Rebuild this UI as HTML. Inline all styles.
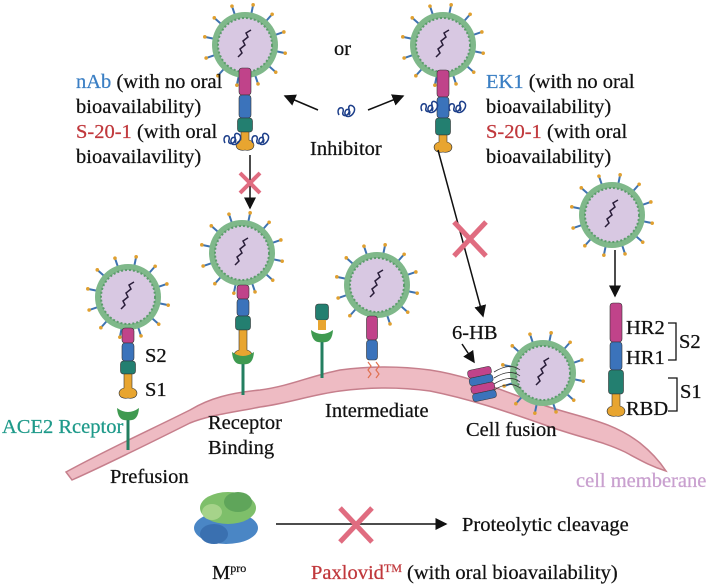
<!DOCTYPE html>
<html><head><meta charset="utf-8"><style>
html,body{margin:0;padding:0;background:#fff}
svg{display:block}
text{font-family:"Liberation Serif",serif;font-size:20.5px;fill:#111;stroke:#111;stroke-width:0.25}
</style></head><body>
<svg id="s" width="714" height="584" viewBox="0 0 714 584">
<defs>
<marker id="ah" markerWidth="8" markerHeight="8" refX="7" refY="4" orient="auto"><path d="M0,0 L8,4 L0,8 z" fill="#111"/></marker>
</defs>
<path d="M66,472 C110,448 150,430 190,410 C210,398 230,393 260,390 C290,386 310,376 340,370 C370,366 400,366 430,370 C470,376 500,390 540,404 C580,418 610,420 640,443 C655,455 662,465 666,471 C650,466 640,460 625,452 C600,440 580,438 545,425 C505,411 470,399 430,391 C400,387 370,387 340,391 C310,395 290,403 260,407 C230,413 210,415 190,423 C150,443 110,463 72,480 Z" fill="#eebbc3" stroke="#c67f8c" stroke-width="1.5"/>
<g id="dyn"></g>
<line x1="318" y1="110" x2="285" y2="96" stroke="#111" stroke-width="1.5" marker-end="url(#ah)"/>
<line x1="368" y1="110" x2="403" y2="96" stroke="#111" stroke-width="1.5" marker-end="url(#ah)"/>
<line x1="250" y1="155" x2="250" y2="208" stroke="#111" stroke-width="1.5" marker-end="url(#ah)"/>
<line x1="438" y1="150" x2="483" y2="316" stroke="#111" stroke-width="1.5" marker-end="url(#ah)"/>
<line x1="615" y1="250" x2="615" y2="296" stroke="#111" stroke-width="1.5" marker-end="url(#ah)"/>
<line x1="462" y1="344" x2="474" y2="362" stroke="#111" stroke-width="1.5" marker-end="url(#ah)"/>
<line x1="276" y1="524" x2="446" y2="524" stroke="#111" stroke-width="1.5" marker-end="url(#ah)"/>
<g stroke="#e06c80" stroke-width="4"><line x1="240" y1="173" x2="260" y2="193"/><line x1="260" y1="173" x2="240" y2="193"/></g>
<g stroke="#e06c80" stroke-width="5"><line x1="454" y1="222" x2="486" y2="256"/><line x1="486" y1="222" x2="454" y2="256"/></g>
<g stroke="#e06c80" stroke-width="5"><line x1="340" y1="508" x2="372" y2="542"/><line x1="372" y1="508" x2="340" y2="542"/></g>
<g>
<ellipse cx="226" cy="528" rx="32" ry="16" fill="#4a86c5"/>
<ellipse cx="214" cy="534" rx="14" ry="10" fill="#3a70b0"/>
<ellipse cx="228" cy="508" rx="28" ry="16" fill="#7ebf6a"/>
<ellipse cx="238" cy="502" rx="14" ry="10" fill="#5fa55a"/>
<ellipse cx="212" cy="512" rx="10" ry="8" fill="#a6d38a"/>
</g>
<path d="M668,323 H676 V360 H668" fill="none" stroke="#111" stroke-width="1.3"/>
<path d="M668,378 H677 V411 H668" fill="none" stroke="#111" stroke-width="1.3"/>
<text x="334" y="55">or</text>
<text x="76" y="88"><tspan fill="#3b7fc4" stroke="#3b7fc4">nAb</tspan> (with no oral</text>
<text x="76" y="113">bioavailability)</text>
<text x="76" y="138"><tspan fill="#c0383c" stroke="#c0383c">S-20-1</tspan> (with oral</text>
<text x="76" y="163">bioavailavility)</text>
<text x="486" y="88"><tspan fill="#3b7fc4" stroke="#3b7fc4">EK1</tspan> (with no oral</text>
<text x="486" y="113">bioavailability)</text>
<text x="486" y="138"><tspan fill="#c0383c" stroke="#c0383c">S-20-1</tspan> (with oral</text>
<text x="486" y="163">bioavailability)</text>
<text x="310" y="155">Inhibitor</text>
<text x="145" y="362">S2</text>
<text x="145" y="396">S1</text>
<text x="2" y="433" style="fill:#1f9a8a;stroke:#1f9a8a">ACE2 Rceptor</text>
<text x="110" y="483">Prefusion</text>
<text x="208" y="429">Receptor</text>
<text x="208" y="454">Binding</text>
<text x="325" y="417">Intermediate</text>
<text x="466" y="436">Cell fusion</text>
<text x="452" y="339">6-HB</text>
<text x="626" y="334">HR2</text>
<text x="626" y="364">HR1</text>
<text x="626" y="415">RBD</text>
<text x="679" y="348">S2</text>
<text x="680" y="398">S1</text>
<text x="576" y="487" style="fill:#c9a0cf;stroke:#c9a0cf">cell memberane</text>
<text x="462" y="531">Proteolytic cleavage</text>
<text x="212" y="579">M<tspan font-size="12" dy="-7">pro</tspan></text>
<text x="311" y="579"><tspan fill="#c0383c" stroke="#c0383c">Paxlovid<tspan font-size="12" dy="-7">TM</tspan></tspan><tspan dy="7"> (with oral bioavailability)</tspan></text>
</svg>
<script>
const NS='http://www.w3.org/2000/svg';
const dyn=document.getElementById('dyn');
function mk(tag,attrs,parent){const e=document.createElementNS(NS,tag);for(const k in attrs)e.setAttribute(k,attrs[k]);(parent||dyn).appendChild(e);return e;}
function virus(cx,cy,name){
  const g=mk('g',{});
  
  
  for(let i=0;i<12;i++){const a=i*Math.PI/6+0.2;
    const x1=cx+Math.cos(a)*31,y1=cy+Math.sin(a)*31,x2=cx+Math.cos(a)*41,y2=cy+Math.sin(a)*41;
    mk('line',{x1,y1,x2,y2,stroke:'#3f73b0','stroke-width':2},g);
    mk('circle',{cx:x2,cy:y2,r:1.8,fill:'#e0a030'},g);}
  mk('circle',{cx,cy,r:33,fill:'#7fb88a'},g);
  mk('circle',{cx,cy,r:27,fill:'#d8c8e2',stroke:'#5c9b6c','stroke-width':2,'stroke-dasharray':'2 2'},g);
  mk('path',{d:`M${cx-7},${cy+12} l4,-4 l-2,-4 l5,-4 l-2,-4 l5,-4 l-2,-4 l5,-3`,fill:'none',stroke:'#2a1e3a','stroke-width':1.5},g);
}
function seg(x,y1,y2,col,w,name){const r=mk('rect',{x:x-w/2,y:y1,width:w,height:y2-y1,rx:3,fill:col,stroke:'#333','stroke-width':0.6});
  
  }
function stack(x,yp,yb,yg,yo,ye,name){
  seg(x,yp,yb,'#c0438a',12,name+'-hr2');
  seg(x,yb,yg,'#3b73bb',12,name+'-hr1');
  seg(x,yg,yo,'#237f70',15,name+'-rbd-domain');
  const o=mk('path',{d:`M${x-4},${yo} L${x+4},${yo} L${x+4},${ye-10} C${x+12},${ye-8} ${x+10},${ye+2} ${x},${ye} C${x-10},${ye+2} ${x-12},${ye-8} ${x-4},${ye-10} Z`,fill:'#e8a530',stroke:'#333','stroke-width':0.6});
  
  
}
function receptor(x,y,y2,name){
  const g=mk('g',{});
  
  
  mk('line',{x1:x,y1:y,x2:x,y2:y2,stroke:'#237f60','stroke-width':3},g);
  mk('path',{d:`M${x-11},${y-10} Q${x},${y-2} ${x+11},${y-10} Q${x+10},${y+4} ${x},${y+2} Q${x-10},${y+4} ${x-11},${y-10}Z`,fill:'#3f9a50'},g);
}
function inhib(x,y,name){const p=mk('path',{d:`M${x-7},${y+3} c-4,-8 6,-10 4,-3 c-2,6 8,4 6,-3 c-2,-6 8,-4 5,3 c-3,6 -10,6 -9,0 c1,-5 7,-2 4,3`,fill:'none',stroke:'#1d3f8a','stroke-width':1.5});
  
  }
virus(245,45,'virus-top-left'); stack(245,68,95,118,132,150,'spike-top-left');
inhib(232,140,'inhibitor-bound-1'); inhib(260,140,'inhibitor-bound-2');
virus(443,45,'virus-top-right'); stack(443,70,97,118,135,152,'spike-top-right');
inhib(429,108,'inhibitor-bound-3'); inhib(457,108,'inhibitor-bound-4');
inhib(346,112,'inhibitor-free');
virus(612,215,'virus-right'); stack(616,303,342,370,394,416,'spike-labeled');
virus(128,297,'virus-prefusion'); stack(128,328,343,361,374,398,'spike-prefusion');
receptor(128,418,450,'ace2-prefusion');
virus(242,253,'virus-binding'); stack(243,285,299,316,330,360,'spike-binding');
receptor(243,362,395,'ace2-binding');
receptor(322,340,378,'ace2-intermediate');
seg(322,304,320,'#237f70',13,'ace2-int-domain');
mk('path',{d:'M318,320 L326,320 L326,330 L318,330 Z',fill:'#e8a530'});
virus(377,285,'virus-intermediate');
seg(372,316,340,'#c0438a',11,'int-hr2'); seg(372,340,360,'#3b73bb',11,'int-hr1');
mk('path',{d:'M368,362 l3,4 l-3,4 l3,4 l-3,4 M376,362 l3,4 l-3,4 l3,4 l-3,4',fill:'none',stroke:'#e07050','stroke-width':1.2});
virus(543,373,'virus-fusion');
const hb=mk('g',{});


[[470,368,'#c0438a'],[470,376,'#3b73bb'],[470,384,'#c0438a'],[470,392,'#3b73bb']].forEach(d=>mk('rect',{x:d[0],y:d[1],width:24,height:8,rx:3,fill:d[2],stroke:'#333','stroke-width':0.5,transform:'rotate(-12 482 384)'},hb));
for(let i=0;i<4;i++)mk('path',{d:`M494,${372+i*6} Q510,${362+i*6} 520,${370+i*6}`,fill:'none',stroke:'#333','stroke-width':0.8},hb);
</script>
</body></html>
